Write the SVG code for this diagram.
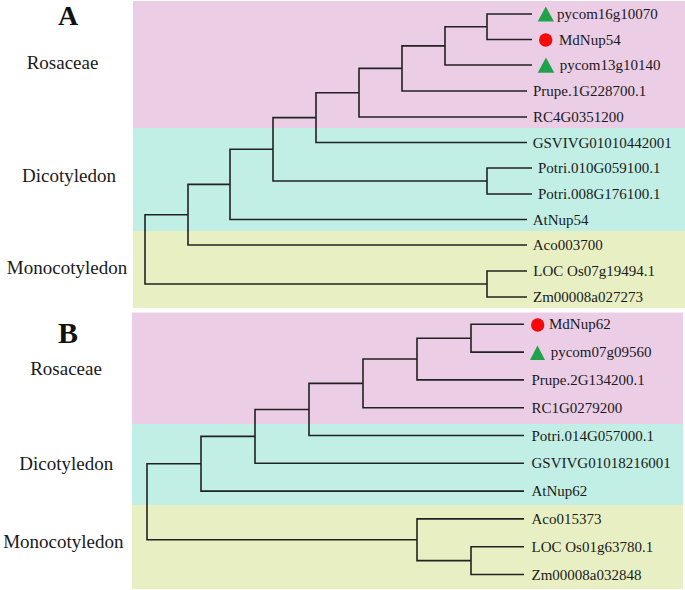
<svg xmlns="http://www.w3.org/2000/svg" width="685" height="590" viewBox="0 0 685 590">
<style>
.bg{stroke:none}
.pink{fill:#ebcde6}
.cyan{fill:#c1efe5}
.yel{fill:#e8f0c3}
.br{fill:none;stroke:#222;stroke-width:1.6;stroke-linejoin:miter}
.lf{font-family:"Liberation Serif","Times New Roman",serif;font-size:15px;fill:#1a1a1a}
.grp{font-family:"Liberation Serif","Times New Roman",serif;font-size:19px;fill:#1a1a1a;text-anchor:middle}
.pl{font-family:"Liberation Serif","Times New Roman",serif;font-size:30px;font-weight:bold;fill:#111;text-anchor:middle}
.tri{fill:#1ea34a}
.cir{fill:#f50a0a}
</style>
<rect width="685" height="590" fill="#fff"/>
<g id="panelA-bg">
<rect class="bg pink" x="133" y="1" width="552" height="127"/>
<rect class="bg cyan" x="133" y="128" width="552" height="103"/>
<rect class="bg yel" x="133" y="231" width="552" height="77"/>
</g>
<g id="panelB-bg">
<rect class="bg pink" x="132" y="312.5" width="551" height="111.5"/>
<rect class="bg cyan" x="132" y="424" width="551" height="81"/>
<rect class="bg yel" x="132" y="505" width="551" height="84"/>
</g>
<g id="labels">
<text class="pl" x="68" y="25" style="font-size:28px">A</text>
<text class="grp" x="62.5" y="69.3">Rosaceae</text>
<text class="grp" x="69" y="181.7">Dicotyledon</text>
<text class="grp" x="67" y="274">Monocotyledon</text>
<text class="pl" x="68" y="343">B</text>
<text class="grp" x="66" y="375">Rosaceae</text>
<text class="grp" x="66.3" y="470">Dicotyledon</text>
<text class="grp" x="63.3" y="548.3">Monocotyledon</text>
</g>
<g id="connectors">
<path class="br" d="M532 14 H487 V39.5 H532"/>
<path class="br" d="M487 26.75 H445 V65 H532"/>
<path class="br" d="M445 45.9 H402 V91 H527"/>
<path class="br" d="M402 68.4 H359 V117 H527"/>
<path class="br" d="M359 92.7 H316 V142.5 H527"/>
<path class="br" d="M532 168 H487 V194 H532"/>
<path class="br" d="M316 117.6 H273 V181 H487"/>
<path class="br" d="M273 149.3 H230 V219.5 H527"/>
<path class="br" d="M230 184.4 H188 V245 H527"/>
<path class="br" d="M527 271 H487 V297 H527"/>
<path class="br" d="M188 214.7 H145 V284 H487"/>
<path class="br" d="M524 324.3 H471 V352.1 H524"/>
<path class="br" d="M471 338.2 H417 V379.9 H524"/>
<path class="br" d="M417 359 H363 V407.7 H524"/>
<path class="br" d="M363 383.4 H309 V435.5 H524"/>
<path class="br" d="M309 409.5 H255 V463.3 H524"/>
<path class="br" d="M255 436.4 H201 V491.1 H524"/>
<path class="br" d="M524 546.7 H471 V574.5 H524"/>
<path class="br" d="M471 560.6 H417 V518.9 H524"/>
<path class="br" d="M201 463.7 H147 V539.8 H417"/>
</g>
<g id="A-pycom16g10070"><polygon class="tri" points="545.8,6.5 537.7,21.5 554,21.5"/><text class="lf" x="557" y="19">pycom16g10070</text></g>
<g id="A-MdNup54"><circle class="cir" cx="545.7" cy="40" r="6.7"/><text class="lf" x="559" y="44.5">MdNup54</text></g>
<g id="A-pycom13g10140"><polygon class="tri" points="546,57.5 537.7,72.7 554.3,72.7"/><text class="lf" x="559.7" y="70">pycom13g10140</text></g>
<g id="A-Prupe"><text class="lf" x="533" y="96">Prupe.1G228700.1</text></g>
<g id="A-RC4G"><text class="lf" x="533" y="122">RC4G0351200</text></g>
<g id="A-GSVIVG"><text class="lf" x="532.7" y="147.5">GSVIVG01010442001</text></g>
<g id="A-Potri010"><text class="lf" x="538" y="173">Potri.010G059100.1</text></g>
<g id="A-Potri008"><text class="lf" x="538" y="199">Potri.008G176100.1</text></g>
<g id="A-AtNup54"><text class="lf" x="532.7" y="224.5">AtNup54</text></g>
<g id="A-Aco"><text class="lf" x="532.7" y="250">Aco003700</text></g>
<g id="A-LOC"><text class="lf" x="533.3" y="276">LOC Os07g19494.1</text></g>
<g id="A-Zm"><text class="lf" x="533" y="302">Zm00008a027273</text></g>
<g id="B-MdNup62"><circle class="cir" cx="537.7" cy="325" r="6.7"/><text class="lf" x="549" y="329.3">MdNup62</text></g>
<g id="B-pycom07g09560"><polygon class="tri" points="537.5,345.5 530,360 545,360"/><text class="lf" x="550.7" y="357.1">pycom07g09560</text></g>
<g id="B-Prupe"><text class="lf" x="531.5" y="384.9">Prupe.2G134200.1</text></g>
<g id="B-RC1G"><text class="lf" x="531.5" y="412.7">RC1G0279200</text></g>
<g id="B-Potri014"><text class="lf" x="531.5" y="440.5">Potri.014G057000.1</text></g>
<g id="B-GSVIVG"><text class="lf" x="531.5" y="468.3">GSVIVG01018216001</text></g>
<g id="B-AtNup62"><text class="lf" x="531.5" y="496.1">AtNup62</text></g>
<g id="B-Aco"><text class="lf" x="531.5" y="523.9">Aco015373</text></g>
<g id="B-LOC"><text class="lf" x="531.5" y="551.7">LOC Os01g63780.1</text></g>
<g id="B-Zm"><text class="lf" x="531.5" y="579.5">Zm00008a032848</text></g>
</svg>
